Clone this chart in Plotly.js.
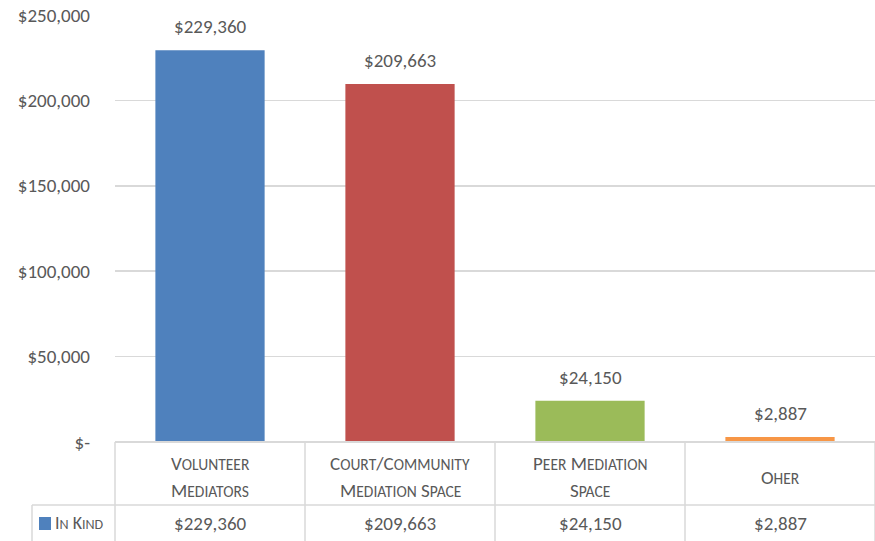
<!DOCTYPE html>
<html>
<head>
<meta charset="utf-8">
<script src="https://cdn.plot.ly/plotly-3.0.1.min.js"></script>
<style>html,body{margin:0;padding:0;background:#fff;}#chart{width:875px;height:541px;}</style>
</head>
<body>
<div id="chart"></div>
<script>
// ---- data ----
var categories = ["Volunteer Mediators", "Court/Community Mediation Space", "Peer Mediation Space", "Oher"];
var labelLines = [["Volunteer", "Mediators"], ["Court/Community", "Mediation Space"], ["Peer Mediation", "Space"], ["Oher"]];
var values = [229360, 209663, 24150, 2887];
var valueLabels = ["$229,360", "$209,663", "$24,150", "$2,887"];
var seriesName = "In Kind";
var barColors = ["#4f81bd", "#c0504d", "#9bbb59", "#f79646"];
var tickVals = [0, 50000, 100000, 150000, 200000, 250000];
var tickText = ["$-", "$50,000", "$100,000", "$150,000", "$200,000", "$250,000"];

// ---- helpers ----
var FONT = "Carlito, Lato, 'Open Sans', sans-serif";
var TXT = "#595959";
var FS = 19;
function smallCaps(s, small) {
  var out = "";
  for (var i = 0; i < s.length; i++) {
    var c = s[i];
    if (c !== c.toUpperCase()) out += '<span style="font-size:' + small + 'px">' + c.toUpperCase() + '</span>';
    else out += c;
  }
  return out;
}
var H = 427; // plot height in px
function py(p) { return (442 - p) / H; } // pixel y -> paper y
function px(p) { return (p - 115) / 760; }

var shapes = [];
var annotations = [];
var lineStyle = {color: "#d9d9d9", width: 1.5};
shapes.push({type: "line", xref: "paper", yref: "paper", x0: 0, x1: 1, y0: 0, y1: 0, line: {color: "#d9d9d9", width: 2}});
shapes.push({type: "line", xref: "paper", yref: "paper", x0: px(32), x1: 1, y0: py(505), y1: py(505), line: lineStyle});
shapes.push({type: "line", xref: "paper", yref: "paper", x0: px(32), x1: px(32), y0: py(505), y1: py(545), line: lineStyle});
for (var i = 0; i <= categories.length; i++) {
  var xp = i / categories.length;
  shapes.push({type: "line", xref: "paper", yref: "paper", x0: xp, x1: xp, y0: 0, y1: py(545), line: lineStyle});
}
for (var i = 0; i < categories.length; i++) {
  var xc = (i + 0.5) / categories.length;
  var lines = labelLines[i];
  var ys = lines.length === 2 ? [463, 491] : [477];
  for (var k = 0; k < lines.length; k++) {
    annotations.push({xref: "paper", yref: "paper", x: xc, y: py(ys[k]), text: smallCaps(lines[k], 15.5),
      showarrow: false, xanchor: "center", yanchor: "middle", font: {family: FONT, size: FS, color: TXT}});
  }
  annotations.push({xref: "paper", yref: "paper", x: xc, y: py(523), text: valueLabels[i],
    showarrow: false, xanchor: "center", yanchor: "middle", font: {family: FONT, size: FS, color: TXT}});
  annotations.push({xref: "x", yref: "y", x: categories[i], y: values[i], text: valueLabels[i],
    showarrow: false, xanchor: "center", yanchor: "bottom", yshift: 10, font: {family: FONT, size: FS, color: TXT}});
}
shapes.push({type: "rect", xref: "paper", yref: "paper", x0: px(39), x1: px(51), y0: py(517), y1: py(530),
  fillcolor: barColors[0], line: {width: 0}});
annotations.push({xref: "paper", yref: "paper", x: px(53), y: py(523), text: smallCaps(seriesName, 14),
  showarrow: false, xanchor: "left", yanchor: "middle", font: {family: FONT, size: 18, color: TXT}});

var trace = {
  type: "bar",
  x: categories,
  y: values,
  name: seriesName,
  marker: {color: barColors},
  hoverinfo: "none"
};

var layout = {
  width: 875, height: 541,
  margin: {l: 115, r: 0, t: 15, b: 99},
  paper_bgcolor: "#ffffff", plot_bgcolor: "#ffffff",
  showlegend: false,
  bargap: 0.425,
  xaxis: {type: "category", showticklabels: false, showgrid: false, zeroline: false, showline: false, ticks: "", fixedrange: true},
  yaxis: {range: [0, 250000], tickvals: tickVals, ticktext: tickText, showgrid: true, gridcolor: "#d9d9d9", gridwidth: 1.5,
    zeroline: false, showline: false, ticks: "", ticklabelstandoff: 24,
    tickfont: {family: FONT, size: FS, color: TXT}, fixedrange: true},
  shapes: shapes,
  annotations: annotations
};

Plotly.newPlot("chart", [trace], layout, {displayModeBar: false, staticPlot: true});
</script>
</body>
</html>
